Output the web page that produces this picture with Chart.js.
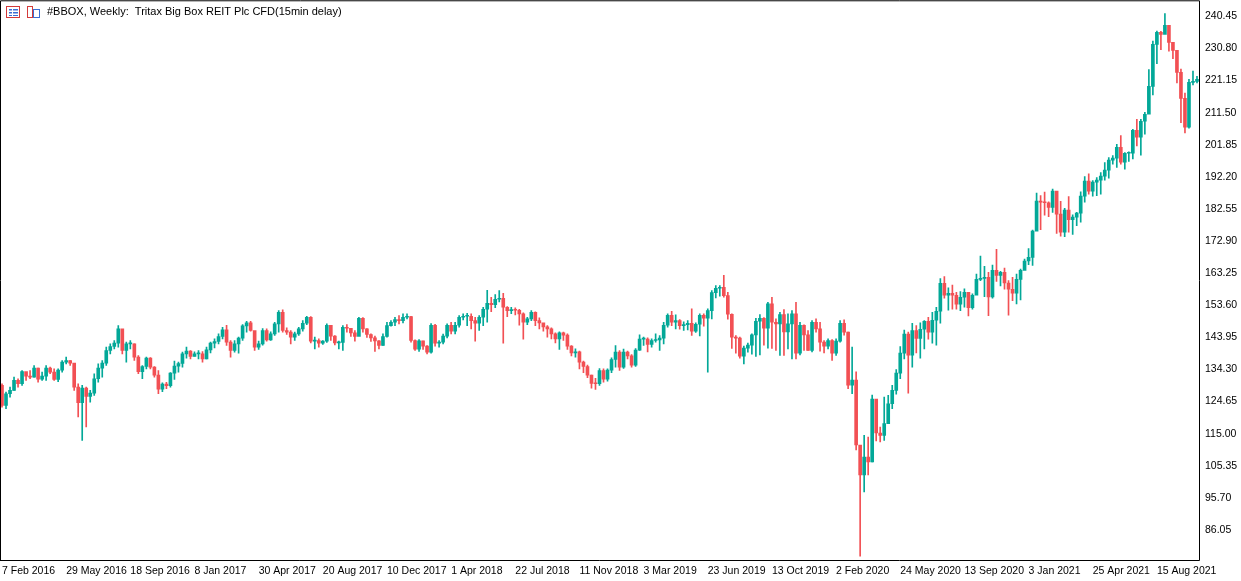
<!DOCTYPE html>
<html><head><meta charset="utf-8">
<script src="https://cdn.jsdelivr.net/npm/chart.js@4.4.0/dist/chart.umd.min.js"></script>
<style>html,body{margin:0;padding:0;background:#fff;overflow:hidden;width:1241px;height:581px}#w{position:absolute;left:0;top:-8px;width:1241px;height:589px}</style>
</head><body><div id="w"><canvas id="c"></canvas></div>
<script>
const firstOpen = 129.5;
// weekly candles: [close, high, low]; open = previous close
const candles = [
[123.5,130,123],[127,127.5,122.5],[128,129,126],[131,132,128],[130,131.5,129],[133.7,134,129.5],[132.3,133,131],[132,134,131.5],
[134.7,135.5,132],[131.4,134.7,130.5],[132.3,133.5,131],[134.7,135.5,131],[133.5,135,133],[131.3,134.5,131],[134.1,134.5,130.6],[136.5,137,133.5],
[137,138,136],[136.2,137,135.5],[129,136,128],[124.3,130,120],[128.7,129.5,113],[126.2,129,117],[127.2,128,124.5],[131.5,133,126.5],
[134.7,136,130.5],[136.2,137,132],[140,141,135.5],[141.2,142,139],[142.2,143,140.5],[146.5,147.5,141],[140,144.7,139],[142,142.5,136.5],
[142,143,140.5],[138,142,137],[133.6,138.5,133],[135.2,135.5,131.5],[137.7,138,134.5],[135,137.9,134.5],[132.6,135.2,132],[128.4,134,127],
[129.9,130.3,127.6],[129.4,130.4,128.5],[133.2,133.4,129],[135.3,136.8,131.3],[136.1,136.5,133.5],[139,139.5,135],[139.8,141,137.7],[138.2,140,137.5],
[139,139.6,138.3],[139,140,137.5],[137.5,139.7,136.5],[140.2,141,137.5],[142.2,142.5,139.3],[142.7,143.5,140.8],[144.2,145,142],[146.2,147,143.5],
[142.5,147.6,141.5],[140,143,138],[142,143,139.5],[143.7,144,139.2],[147.4,147.8,143],[148.3,148.8,145.5],[146,148.8,145.8],[141,141.5,140],
[142,142.8,140.3],[146,146.6,141.6],[143.2,146.5,142.8],[145,145.6,143],[148,148.5,144.5],[151.5,152,145.5],[146,152.2,145.5],[145.5,146.8,144.8],
[144,146,142],[145,145.5,143],[146.5,147,144.5],[148.2,149,145.8],[150,150.3,147.8],[142.8,150.2,142.3],[143,144,140.5],[142.2,143.5,141],
[142.8,143,141.8],[147.6,148,142.4],[144.3,147.6,143],[142.3,144.5,141.7],[142.4,142.8,140.5],[147,147.5,140],[146.7,147.8,145.5],[145.3,146.5,144.2],
[144.2,146,142.8],[149.7,150,144.5],[146.5,149.9,145.5],[144.8,146.6,143.9],[143.8,145,142.7],[142.9,144.3,139.7],[141.5,143,140.5],[144.2,145,141.5],
[147.5,148.5,144],[148.5,149,147.3],[149.3,150,147.5],[149,150.5,148],[150,151,148.3],[150.2,151,149.5],[143,150.3,142.5],[140.4,143.2,140],
[142.9,143.3,139.7],[141.3,142.8,140.3],[139.5,141.5,139],[147.6,148.1,139.2],[142.2,147.9,141.3],[142.5,143,141],[144.3,144.9,142],[147.6,148,143.8],
[145.8,148.5,145],[147.6,148.5,145],[150,150.5,147],[150.3,151,149.2],[150.3,151.2,147.5],[149,151,146.5],[148.2,150,142.8],[150,150.5,146],
[152.4,153,147.5],[154.2,158.1,148.5],[153.8,156,151.7],[155.4,156.8,152.9],[155.7,158,154.6],[153,157.2,142.2],[152,153.2,150.2],[152.3,153,151.1],
[152.1,152.8,150.7],[151,152.4,147.6],[148.5,151.3,143.4],[149.5,150,147.8],[151.5,152,149],[149,151.6,147.5],[148.3,149.8,146.5],[147.1,148,145.8],
[146.5,147.5,144],[145,146.8,143.5],[143.5,145.3,142.3],[145.3,145.6,140.3],[144.6,145.5,143],[141.3,145,140.3],[139.3,141.5,138.4],[139.6,140.5,138],
[136.5,139.8,134.5],[135.2,136.8,133.3],[132.6,135.6,131.8],[130.1,132.6,128.7],[130,131.6,128.3],[134,134.6,129.5],[131.4,134.5,130.5],[134.1,134.5,130.8],
[137.3,137.8,133.3],[139.5,141.5,135],[135,140,134],[139.5,140.4,134.6],[138.4,139.8,137.5],[135.6,138.8,135],[140.1,140.6,135.2],[143.4,144.7,140],
[143.4,144,141.5],[141.8,143.8,139.6],[143,143.5,141],[143.2,145,142.5],[143.7,144.5,140],[147.6,148.5,142],[150.6,151,147],[148.5,151.8,147.5],
[149,150.7,146.5],[147.5,149.3,146.4],[147.8,148.6,146],[148.2,149,146.2],[145.8,152.5,144.5],[147.9,148.3,145.4],[150.6,151,144.4],[149.7,151,147.3],
[152,152.5,133.5],[157.4,158,149.5],[158.7,159.5,155.8],[159,159.5,156.3],[156.5,162.6,156],[150.9,157.5,149.4],[144,151,140.6],[143.7,144.5,139.2],
[138.3,144,137.7],[140.7,141.3,136],[141.6,142.2,139.5],[144.7,145,138.9],[148.8,149.7,138.2],[149.7,150.8,138.7],[146.7,149.9,141.6],[154,154.5,140.7],
[148.5,156,140.6],[148,149.5,140],[150.8,151.5,138.5],[145.6,152.3,138.5],[148,151,140.5],[151,152,137.5],[139.2,154.5,137.5],[147.6,148.5,138.7],
[144.7,147.7,140],[140,146,140],[148.5,149,139.6],[146.5,149.5,145.5],[142.5,148.5,139.8],[141.3,143,139.3],[143,143.5,140.5],[139.2,143.3,137],
[142.8,143.5,138.5],[148.2,149,142.5],[145.5,149.2,144.6],[129.6,145.5,128.5],[131.1,141,127],[111.6,133.6,110.1],[102.6,104.4,78.2],[108,114.5,97.5],
[106.5,114,102.6],[125.4,126.6,106.5],[115.2,122.3,112.8],[114.5,117,112.5],[118,126,113],[124,126.5,118],[128,129.5,122.5],[133.2,134.3,126.9],
[139.2,141.2,131.5],[144.9,146.1,137.5],[138.6,145.5,127.2],[146,148.2,135],[143.6,147.5,139.3],[146.4,148.3,137.7],[148.8,149,140.5],[145.5,150,143.4],
[149.1,151.5,142.2],[151.8,153,141.6],[160.2,161.6,148.2],[156.6,162.2,155.7],[157.2,158.8,152.1],[156.6,159.7,152.4],[153.9,157.5,152.4],[156,157.7,152],
[157.5,158.5,153],[152.9,154,150.4],[156.6,157,152.4],[161.4,163,157.1],[161.7,168.4,161],[162,165.3,156.2],[156.1,163.5,150.5],[164.1,165.7,155.7],
[162.6,170.4,160.8],[163.5,163.8,159.4],[160.3,164.8,158.4],[158.4,161,150.6],[157.2,162,155],[161.4,163,154],[164.1,164.5,155.2],[166.9,167.5,164.5],
[168,170.6,165.8],[175.9,176.2,165.6],[184.9,187.3,179.6],[184.6,186.6,176.3],[184.4,187.6,180.7],[183,184.7,180.2],[187.9,188.5,181.5],[181,183.8,175.2],
[175.6,184.8,174.4],[182.2,182.7,174.2],[179.3,186.3,175.6],[180.1,180.8,174.9],[181.3,181.5,177.5],[186.4,187.7,178.6],[190.9,192.3,184.6],[187.9,193.1,187],
[190.6,191.1,186.4],[191.2,192,186.5],[192.4,193.5,187],[194.2,196.5,191.2],[197.2,198,191.8],[197.8,198.6,196],[201.1,202,195],[196.6,204.6,196],
[199.3,199.5,194.5],[199.3,199.7,196.8],[206.2,206.5,197.6],[204.1,209.5,201.5],[208.9,209.5,198.7],[211,211.6,205],[219.4,224.4,211.5],[232,233,216.8],
[235.6,236,226.2],[235,235.9,230.4],[237.7,241.3,235.4],[232.6,235.9,230],[230.2,231.5,227.7],[223.6,227.4,220.4],[215.8,224.6,208.5],[207.1,217.4,205.4],
[220.6,221.5,206.8],[220.9,224,219.8],[221.5,222.4,220.4]
];
const tickLabels = ["7 Feb 2016","29 May 2016","18 Sep 2016","8 Jan 2017","30 Apr 2017","20 Aug 2017","10 Dec 2017","1 Apr 2018","22 Jul 2018","11 Nov 2018","3 Mar 2019","23 Jun 2019","13 Oct 2019","2 Feb 2020","24 May 2020","13 Sep 2020","3 Jan 2021","25 Apr 2021","15 Aug 2021"];
const tickEvery = 16;
const yTicks = [240.45,230.80,221.15,211.50,201.85,192.20,182.55,172.90,163.25,153.60,143.95,134.30,124.65,115.00,105.35,95.70,86.05];
const yMin = 77.03, yMax = 245.26;
const title = "#BBOX, Weekly:  Tritax Big Box REIT Plc CFD(15min delay)";

const UP = 'rgb(3,168,152)', DN = 'rgb(242,80,84)';
const labels = candles.map((c,i)=> i%tickEvery===0 ? (tickLabels[i/tickEvery]||'') : '');
const opens = candles.map((c,i)=> i===0 ? firstOpen : candles[i-1][0]);
const cols = candles.map((c,i)=> c[0]>=opens[i] ? UP : DN);
const bodies = candles.map((c,i)=> [opens[i], c[0]]);
const wicks = candles.map(c=> [c[2], c[1]]);

const deco = {
  id:'deco',
  afterDraw(ch){
    const {ctx, chartArea:a} = ch;
    ctx.save();
    ctx.strokeStyle='#000'; ctx.lineWidth=1;
    ctx.beginPath();
    ctx.moveTo(a.left+0.5,a.bottom); ctx.lineTo(a.left+0.5,a.top+0.5); ctx.lineTo(a.right+0.5,a.top+0.5); ctx.lineTo(a.right+0.5,a.bottom+0.5); ctx.lineTo(a.left,a.bottom+0.5);
    ctx.stroke();
    ctx.translate(0, 8);
    ctx.fillStyle='#fff'; ctx.fillRect(6,6,14,12);
    ctx.strokeStyle='#d43a3a'; ctx.strokeRect(6.5,6.5,13,11);
    ctx.fillStyle='#3a6fd4'; ctx.fillRect(9,9,3,1.5); ctx.fillRect(13,9,5,1.5); ctx.fillRect(9,12,3,1.5); ctx.fillRect(13,12,5,1.5); ctx.fillRect(9,15,3,1); ctx.fillRect(13,15,5,1);
    ctx.strokeStyle='#d43a3a'; ctx.strokeRect(27.5,6.5,5,11);
    ctx.strokeStyle='#3a6fd4'; ctx.strokeRect(33.5,9.5,6,8);
    ctx.fillStyle='#000'; ctx.font='11px "Liberation Sans"'; ctx.textBaseline='middle';
    ctx.fillText(title, 47, 12);
    ctx.restore();
  }
};

new Chart(document.getElementById('c'), {
  type:'bar',
  data:{labels, datasets:[
    {data:wicks, backgroundColor:cols, barThickness:1, grouped:false, borderSkipped:false},
    {data:bodies, backgroundColor:cols, barThickness:3, grouped:false, minBarLength:1, borderSkipped:false}
  ]},
  options:{
    responsive:true, maintainAspectRatio:false, animation:false,
    layout:{padding:0},
    plugins:{legend:{display:false}, tooltip:{enabled:false}},
    scales:{
      x:{grid:{display:false, drawTicks:true, tickLength:3}, border:{display:false},
        afterFit(s){s.height=21;},
        ticks:{autoSkip:false, maxRotation:0, align:'start', color:'#000', font:{family:'Liberation Sans', size:10.5}, padding:2}},
      y:{position:'right', min:yMin, max:yMax, grid:{display:false, drawTicks:true, tickLength:4}, border:{display:false},
        afterFit(s){s.width=42;},
        afterBuildTicks(s){s.ticks = yTicks.map(v=>({value:v}));},
        ticks:{color:'#000', font:{family:'Liberation Sans', size:10.5}, padding:2, callback:v=>v.toFixed(2)}}
    }
  },
  plugins:[deco]
});
</script></body></html>
